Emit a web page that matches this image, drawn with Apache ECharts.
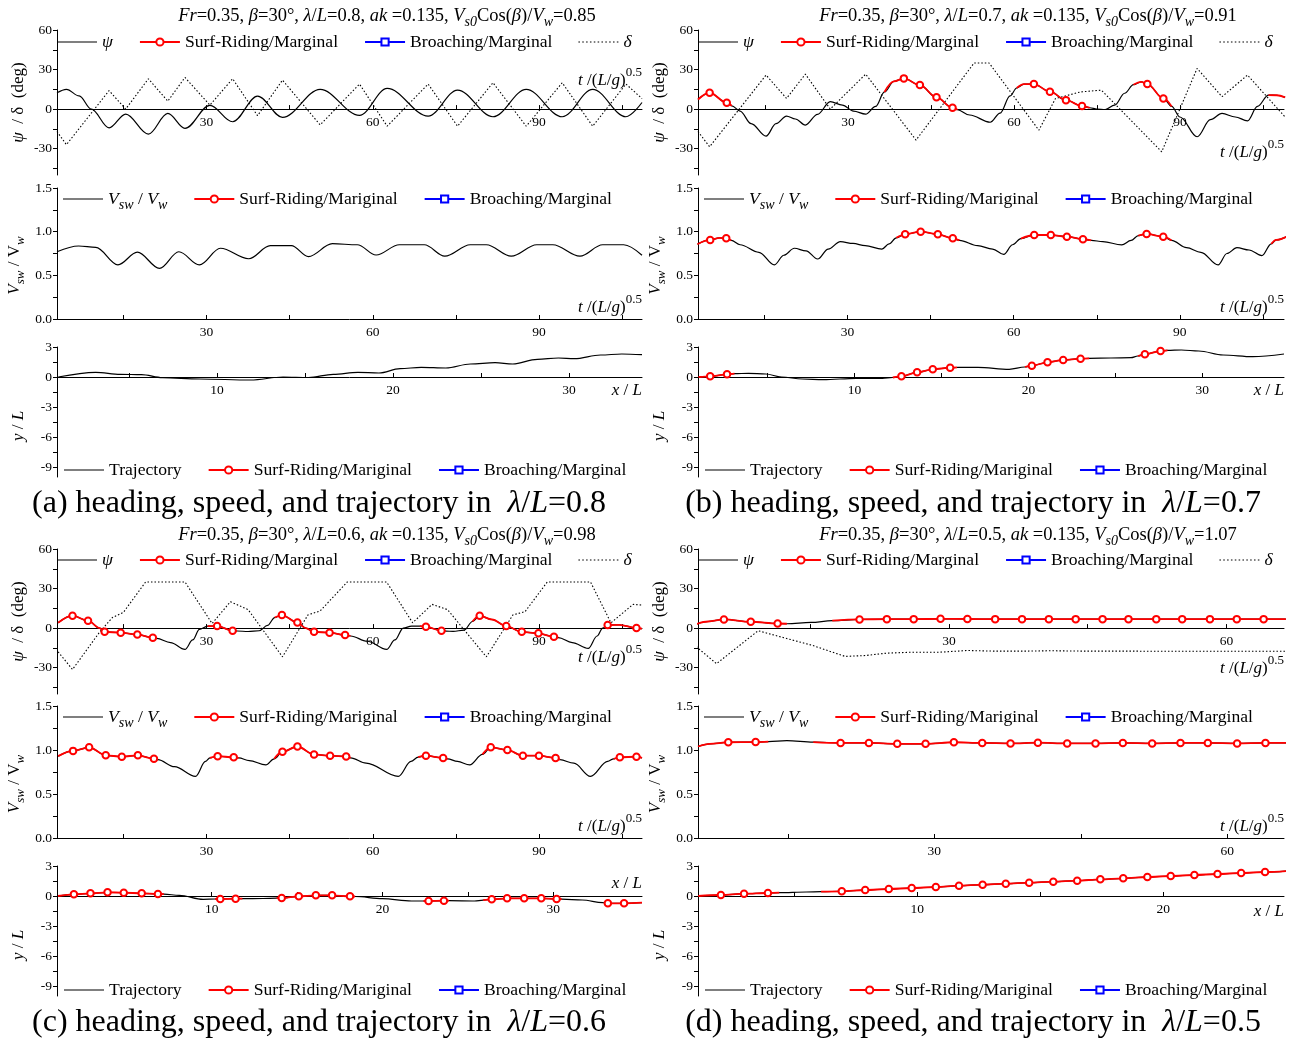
<!DOCTYPE html>
<html>
<head>
<meta charset="UTF-8">
<title>heading, speed, and trajectory</title>
<script src="https://cdn.jsdelivr.net/npm/echarts@6/dist/echarts.min.js"></script>
<style>
  html, body { margin: 0; background: #fff; }
  #chart { width: 1293px; height: 1043px; }
</style>
</head>
<body>
<div id="chart"></div>
<script>
// ---- data: [t or x, value, flag]  flag 0 = normal, 1 = surf-riding segment, 2 = surf-riding marker
// (a) lambda/L = 0.8
const psiA = [[3,12.4,0],[4.7,15,0],[7,10,0],[9.2,0,0],[12.4,-14.2,0],[15.4,-3.8,0],[19.5,-19,0],[23,-3.3,0],[26.1,-14.6,0],[30.6,2.8,0],[34.7,-9.6,0],[39.2,9.9,0],[43.7,-6.3,0],[50.5,15,0],[57.6,-4.8,0],[62.6,15.7,0],[70,-5.3,0],[75.3,14.4,0],[81.7,-5.8,0],[87.7,15,0],[94.2,-5.8,0],[99.7,15,0],[105.7,-5.8,0],[108.6,5,0]];
const deltaA = [[3,-17],[4.7,-27],[12.4,14],[15.4,0],[19.5,23],[23,6],[26.1,24],[30.6,3],[34.7,23],[39.2,-5],[43.7,22],[50.5,-12],[57.6,19],[62.6,-13],[70,19],[75.3,-13],[81.7,20],[87.7,-13],[94.2,20],[99.7,-13],[105.7,19],[108.6,8]];
const speedA = [[3,0.77,0],[6.9,0.836,0],[10,0.82,0],[14,0.62,0],[17.5,0.765,0],[21.5,0.58,0],[25,0.77,0],[28.7,0.62,0],[32.5,0.81,0],[37.6,0.69,0],[41.5,0.84,0],[45.3,0.84,0],[48.4,0.715,0],[52.7,0.862,0],[57.2,0.85,0],[60.6,0.733,0],[64.8,0.85,0],[69.3,0.85,0],[73,0.72,0],[77.6,0.85,0],[80.5,0.85,0],[85,0.72,0],[89.6,0.85,0],[92.5,0.85,0],[97.4,0.72,0],[101.5,0.85,0],[105.3,0.85,0],[108.6,0.73,0]];
const trajA = [[0.97,0,0],[3.1,0.47,0],[4.5,0.27,0],[5.7,0.23,0],[6.9,-0.07,0],[9,-0.2,0],[11.9,-0.3,0],[13.75,0,0],[15.2,-0.05,0],[16.6,0.27,0],[18,0.47,0],[19.2,0.4,0],[20.4,0.83,0],[21.6,0.97,0],[23,0.9,0],[24.4,1.3,0],[25.8,1.43,0],[26.8,1.3,0],[28.2,1.77,0],[29.4,1.9,0],[30.3,1.83,0],[31.8,2.2,0],[33,2.3,0],[34.15,2.23,0]];

// (b) lambda/L = 0.7
const psiB = [[2.9,7.3,1],[5,12.4,2],[8.1,4.8,2],[9,2.5,1],[10.5,-1.5,0],[12.5,-11,0],[15.2,-20.5,0],[17,-11,0],[18.9,-5.3,0],[20.5,-7.5,0],[22.3,-12.1,0],[24.5,-4,0],[26.8,5.6,0],[29,3,0],[31,-1.5,0],[33.2,-3.8,0],[35,2,0],[36.6,13,1],[38.3,21,1],[40.1,23.3,2],[43,18.2,2],[46,8.9,2],[48.9,1,2],[49.8,-0.5,1],[52,-4.5,0],[55.7,-10,0],[57.5,-3,0],[59.3,10,0],[60.5,16,1],[61.8,19,1],[63.6,19,2],[66.5,13.2,2],[69.4,6.8,2],[72.3,2.3,2],[73.7,1,1],[75,0,0],[76.5,-0.3,0],[78.2,3,0],[80,12,0],[81.6,18.5,1],[83,20.7,1],[84.1,19,2],[87,8.1,2],[88.5,2,1],[90,-6,0],[93.1,-21,0],[95.5,-8,0],[97.6,-3.3,0],[100,-6,0],[102.2,-8.9,0],[104,2,0],[106,10.6,1],[107.5,10.5,1],[109,8.9,1]];
const deltaB = [[2.9,-17],[5,-28.6],[15.2,25.8],[18.9,8.1],[22.3,26.5],[26.8,0],[33.2,26.5],[42.3,-23.5],[52.8,35],[55.5,35],[64.5,-16],[67.5,8],[72,13],[75.8,14.4],[86.7,-32.4],[93.1,30.9],[97.6,9.4],[102.2,25.8],[109,-6]];
const speedB = [[2.9,0.856,1],[5.2,0.905,2],[6.9,0.93,1],[8.1,0.924,2],[9,0.9,1],[10.6,0.85,0],[14,0.764,0],[16.8,0.62,0],[18.5,0.73,0],[20.4,0.81,0],[22.5,0.78,0],[24.6,0.687,0],[26.5,0.8,0],[28.7,0.886,0],[31,0.865,0],[33.2,0.84,0],[36.2,0.8,0],[37.5,0.86,0],[38.8,0.93,1],[40.4,0.97,2],[43.2,1.0,2],[46.3,0.97,2],[49,0.924,2],[50.2,0.9,1],[53.5,0.84,0],[56.2,0.8,0],[58.2,0.74,0],[59.8,0.85,0],[61.3,0.92,1],[63.7,0.962,2],[66.7,0.962,2],[69.6,0.943,2],[72.5,0.913,2],[74,0.9,1],[76.1,0.886,0],[79.5,0.848,0],[81.2,0.9,0],[82.5,0.955,1],[84,0.974,2],[87,0.943,2],[88.5,0.9,1],[91.2,0.817,0],[93.8,0.764,0],[96.9,0.62,0],[98.5,0.75,0],[100.3,0.817,0],[102.5,0.79,0],[104.8,0.725,0],[106.5,0.86,1],[107.4,0.905,1],[109.3,0.943,1]];
const trajB = [[1.03,0,1],[1.7,0.07,2],[2.67,0.27,2],[3.1,0.33,1],[3.9,0.37,0],[4.9,0.3,0],[5.8,0,0],[7,-0.2,0],[8.2,-0.27,0],[10.1,-0.13,0],[11.6,-0.13,0],[12.2,-0.05,1],[12.7,0.07,2],[13.6,0.47,2],[14.5,0.77,2],[15.5,0.93,2],[15.9,0.96,1],[17.1,0.97,0],[18.9,0.77,0],[19.8,1.0,1],[20.2,1.13,2],[21.1,1.47,2],[22,1.7,2],[23,1.83,2],[23.5,1.87,1],[24.75,1.9,0],[25.9,1.93,0],[26.3,2.1,1],[26.7,2.27,2],[27.6,2.6,2],[28,2.66,1],[28.8,2.7,0],[29.8,2.6,0],[31.2,2.2,0],[32.9,2.03,0],[34.7,2.3,0]];

// (c) lambda/L = 0.6
const psiC = [[3.2,4,1],[5.8,9.4,2],[8.6,5.6,2],[10.7,0,1],[11.6,-2.8,2],[14.5,-3.5,2],[17.5,-4.8,2],[20.3,-7.3,2],[21,-7.8,1],[23.5,-11,0],[26.1,-16.2,0],[27.5,-9,0],[28.7,-1,0],[30.2,1.5,1],[31.9,1.5,2],[34.7,-2,2],[35.5,-2.2,1],[37.5,-2.6,0],[39.5,-2,0],[41,2,0],[42.3,8,1],[43.6,9.9,2],[46.4,4.3,2],[47.9,0,1],[49.4,-2.8,2],[52.2,-3.5,2],[55,-5.3,2],[56,-6,1],[59,-10,0],[62.5,-16.2,0],[64,-9,0],[65.5,0,0],[67,1.5,0],[68.5,1.5,1],[69.6,1,2],[72.4,-2,2],[73.2,-2.3,1],[74.5,-2.5,0],[76.5,-1.5,0],[78,5,1],[79.3,9.4,2],[81.5,6.5,1],[84.1,1.5,2],[86.9,-2.8,2],[89.9,-4,2],[92.7,-6.6,2],[93.5,-7.2,1],[96,-11,0],[98.9,-15.4,0],[100.5,-6,0],[101.5,0,0],[102.4,2.3,2],[104.5,2.5,1],[107.6,0,2],[108.6,-0.4,1]];
const deltaC = [[3.2,-18],[5.8,-31.4],[10.7,-3],[13,8],[15,12],[19,35],[26.1,35],[31,3.5],[34.3,20],[37.5,14],[43.7,-21.8],[48.3,10],[50.5,13],[55.4,35],[62.5,35],[67.2,4],[70.7,18],[73.5,14],[80.5,-21.8],[85.3,10],[87.5,12.5],[91.5,35],[99.3,35],[103,4],[107,18],[108.6,17.5]];
const speedC = [[3.2,0.93,1],[5.9,0.99,2],[8.8,1.03,2],[11.8,0.94,2],[14.7,0.924,2],[17.6,0.94,2],[20.5,0.9,2],[21.2,0.89,1],[24.2,0.81,0],[28,0.7,0],[29.8,0.87,0],[30.6,0.91,1],[32,0.93,2],[34.9,0.917,2],[35.8,0.91,1],[37.7,0.88,0],[40.7,0.83,0],[42.2,0.9,1],[43.7,0.98,2],[46.4,1.04,2],[49.4,0.95,2],[52.3,0.935,2],[55.2,0.925,2],[56,0.91,1],[58.8,0.85,0],[64.6,0.7,0],[66.9,0.87,0],[68.2,0.92,1],[69.6,0.935,2],[72.7,0.91,2],[73.5,0.9,1],[75.3,0.87,0],[77.5,0.83,0],[79.8,0.95,1],[81.3,1.03,2],[84.3,1.0,2],[87.1,0.935,2],[90,0.935,2],[93,0.91,2],[93.8,0.89,1],[96.3,0.85,0],[99.3,0.7,0],[102.4,0.87,0],[103.5,0.9,1],[104.6,0.917,2],[107.6,0.924,2],[108.6,0.91,1]];
const trajC = [[1,0,1],[1.93,0.17,2],[2.9,0.27,2],[3.9,0.37,2],[4.85,0.33,2],[5.9,0.27,2],[6.85,0.2,2],[7.2,0.18,1],[8.1,0.07,0],[9.5,-0.33,0],[10.2,-0.3,1],[10.5,-0.3,2],[11.4,-0.27,2],[11.8,-0.26,1],[13,-0.25,0],[13.8,-0.22,1],[14.1,-0.2,2],[15.1,-0.03,2],[16.1,0.07,2],[17.05,0.07,2],[18.1,-0.03,2],[18.4,-0.05,1],[20,-0.27,0],[21.7,-0.5,0],[22.4,-0.5,1],[22.7,-0.5,2],[23.6,-0.47,2],[23.9,-0.47,1],[25.4,-0.5,0],[25.9,-0.42,1],[26.4,-0.33,2],[27.3,-0.23,2],[28.3,-0.23,2],[29.3,-0.23,2],[30.2,-0.3,2],[30.5,-0.32,1],[31.7,-0.4,0],[32.9,-0.67,0],[33.2,-0.73,2],[34.15,-0.73,2],[35.2,-0.67,1]];

// (d) lambda/L = 0.5
const psiD = [[2.7,3,1],[4,5,1],[5.7,6.6,2],[8.6,4.8,2],[11.5,3.5,2],[12.5,3.3,1],[15.1,4.3,0],[17.4,5.6,1],[20.35,6.6,2],[23.3,6.8,2],[26.2,6.8,2],[29.1,7,2],[32,6.9,2],[35,6.8,2],[37.9,6.8,2],[40.8,6.8,2],[43.7,6.8,2],[46.6,6.8,2],[49.4,6.8,2],[52.4,6.8,2],[55.2,6.8,2],[58.2,6.8,2],[61.1,6.8,2],[64,6.8,2],[66.4,6.8,1]];
const deltaD = [[2.7,-14],[4.9,-27],[9.4,-2],[12,-7],[15.2,-13],[18.8,-21.5],[21,-20.8],[23.3,-19],[26,-18.3],[29,-18.3],[32,-17],[35,-17.5],[38,-17.5],[41,-17.2],[45,-17.5],[50,-17.5],[55,-17.6],[60,-17.6],[66.4,-17.6]];
const speedD = [[5.8,1.04,1],[7,1.07,1],[8.9,1.088,2],[11.7,1.09,2],[13,1.095,1],[14.9,1.106,0],[17.6,1.09,1],[20.4,1.08,2],[23.3,1.08,2],[26.2,1.07,2],[29.1,1.07,2],[32,1.088,2],[34.9,1.08,2],[37.8,1.075,2],[40.6,1.083,2],[43.6,1.075,2],[46.5,1.075,2],[49.3,1.08,2],[52.3,1.075,2],[55.2,1.08,2],[58,1.08,2],[61,1.075,2],[63.9,1.08,2],[66.1,1.08,1]];
const trajD = [[1.11,0,1],[2.03,0.1,2],[2.97,0.23,2],[3.94,0.3,2],[4.4,0.33,1],[5.5,0.4,0],[6.1,0.43,1],[6.94,0.47,2],[7.89,0.6,2],[8.85,0.7,2],[9.78,0.8,2],[10.76,0.9,2],[11.7,1.03,2],[12.66,1.13,2],[13.6,1.23,2],[14.55,1.33,2],[15.53,1.43,2],[16.5,1.53,2],[17.44,1.67,2],[18.37,1.77,2],[19.35,1.9,2],[20.3,2.0,2],[21.26,2.1,2],[22.2,2.2,2],[23.16,2.3,2],[24.13,2.4,2],[25,2.5,1]];

// ---- ticks
const tTicks = [15, 30, 45, 60, 75, 90, 105];
const tLabels = [30, 60, 90];
const tTicksD = [15, 30, 45, 60];
const tLabelsD = [30, 60];
const xTicks = [5, 10, 15, 20, 25, 30];
const xLabels = [10, 20, 30];
const xTicksD = [5, 10, 15, 20];
const xLabelsD = [10, 20];
const headTicks = [-45, -30, -15, 0, 15, 30, 45, 60];
const headLabels = [-30, 0, 30, 60];
const speedTicks = [0, 0.25, 0.5, 0.75, 1, 1.25, 1.5];
const speedLabels = [0, 0.5, 1, 1.5];
const trajTicks = [-9, -7.5, -6, -4.5, -3, -1.5, 0, 1.5, 3];
const trajLabels = [-9, -6, -3, 0, 3];

// ---- layout
const FONT = 'Liberation Serif';
const SM = 0.35;
const HEAD_Y = [-50, 60], SPEED_Y = [0, 1.5], TRAJ_Y = [-10, 3];
const cols = [{ l: 57, r: 642, c: 387, cap: 319 }, { l: 698, r: 1284, c: 1028, cap: 973 }];
const rows = [
  { head: [30, 175], speed: [188, 319], traj: [347, 477], sub: 3, cap: 488, lg: [33, 190, 461] },
  { head: [549, 694], speed: [706, 838], traj: [866, 996], sub: 522, cap: 1007, lg: [551, 708, 981] }
];
const panels = [
  { tag: 'a', col: 0, row: 0, lam: '0.8', ratio: '0.85', psi: psiA, delta: deltaA, speed: speedA, traj: trajA,
    tHead: [3, 108.6], tSpeed: [3, 108.6], xTraj: [0.9, 34.15], tt: tTicks, tl: tLabels, xt: xTicks, xl: xLabels, headName: -29, trajName: 14 },
  { tag: 'b', col: 1, row: 0, lam: '0.7', ratio: '0.91', psi: psiB, delta: deltaB, speed: speedB, traj: trajB,
    tHead: [2.9, 108.8], tSpeed: [3, 108.8], xTraj: [1, 34.7], tt: tTicks, tl: tLabels, xt: xTicks, xl: xLabels, headName: 43, trajName: 14 },
  { tag: 'c', col: 0, row: 1, lam: '0.6', ratio: '0.98', psi: psiC, delta: deltaC, speed: speedC, traj: trajC,
    tHead: [3, 108.6], tSpeed: [3, 108.6], xTraj: [0.94, 35.2], tt: tTicks, tl: tLabels, xt: xTicks, xl: xLabels, headName: 29, trajName: -12 },
  { tag: 'd', col: 1, row: 1, lam: '0.5', ratio: '1.07', psi: psiD, delta: deltaD, speed: speedD, traj: trajD,
    tHead: [2.9, 66.2], tSpeed: [5.8, 65.8], xTraj: [1.1, 24.9], tt: tTicksD, tl: tLabelsD, xt: xTicksD, xl: xLabelsD, headName: 40, trajName: 16 }
];

function mkRich(size, subSize) {
  const base = { fontFamily: FONT, fontSize: size, fontWeight: 'normal', color: '#000' };
  return {
    n: base,
    i: Object.assign({}, base, { fontStyle: 'italic' }),
    sub: Object.assign({}, base, { fontSize: subSize, fontStyle: 'italic', padding: [12, 0, 0, 0] }),
    sup: Object.assign({}, base, { fontSize: subSize, padding: [0, 0, 16, 0] })
  };
}
const rich = mkRich(17, 13);
const subRich = mkRich(18.5, 14);
const legendRich = mkRich(17.6, 14);
const tName = '{i|t}{n| /(}{i|L}{n|/}{i|g}{n|)}{sup|0.5}';
function shiftPad(s) { return s < 0 ? [0, 0, -2 * s, 0] : [2 * s, 0, 0, 0]; }

// legend glyphs for plain black lines (no marker) and the dotted rudder line
const LINE_ICON = 'path://M0,0H40V1.2H0Z';
let dots = '';
for (let k = 0; k < 11; k++) dots += 'M' + (k * 3.7) + ',0h1.5v1.1h-1.5Z';
const DOT_ICON = 'path://' + dots;

const grids = [], xAxes = [], yAxes = [], legends = [], titles = [], series = [];

function addGrid(col, top, bottom) {
  grids.push({ left: col.l, top: top, width: col.r - col.l, height: bottom - top, containLabel: false });
  return grids.length - 1;
}
// yr: y range of the grid, so the x axis can sit on y = 0
function xAxis(gi, range, ticks, labels, name, shift, yr) {
  const g = grids[gi];
  const off = yr[0] < 0 ? -g.height * (0 - yr[0]) / (yr[1] - yr[0]) : 0;
  xAxes.push({
    type: 'value', gridIndex: gi, min: range[0], max: range[1], position: 'bottom', offset: off,
    axisLine: { show: true, onZero: false, lineStyle: { color: '#000', width: 1 } },
    axisTick: { show: true, inside: true, length: 4, customValues: ticks, lineStyle: { color: '#000' } },
    axisLabel: { customValues: labels, color: '#000', fontFamily: FONT, fontSize: 13.5, margin: 6 },
    splitLine: { show: false },
    name: name, nameLocation: 'end', nameGap: 0,
    nameTextStyle: { align: 'right', verticalAlign: 'middle', padding: shiftPad(shift), rich: rich }
  });
}
function yAxis(gi, range, ticks, labels, name, fmt, namePad) {
  yAxes.push({
    type: 'value', gridIndex: gi, min: range[0], max: range[1],
    axisLine: { show: true, onZero: false, lineStyle: { color: '#000', width: 1 } },
    axisTick: { show: true, inside: false, length: 4, customValues: ticks, lineStyle: { color: '#000' } },
    axisLabel: { customValues: labels, color: '#000', fontFamily: FONT, fontSize: 13.5, margin: 5, formatter: fmt },
    splitLine: { show: false },
    name: name, nameLocation: 'middle', nameRotate: 90, nameGap: 30,
    nameTextStyle: { rich: rich, padding: namePad || 0 }
  });
}
function addCurve(gi, pts, name, redName) {
  series.push({
    type: 'line', name: name, xAxisIndex: gi, yAxisIndex: gi, data: pts.map(p => [p[0], p[1]]),
    smooth: SM, smoothMonotone: 'x', symbol: 'none', lineStyle: { color: '#000', width: 1.2 }, itemStyle: { color: '#000' }, z: 2
  });
  let run = [];
  const flush = () => {
    if (run.length > 1) {
      series.push({
        type: 'line', name: redName, xAxisIndex: gi, yAxisIndex: gi, smooth: SM, smoothMonotone: 'x',
        symbol: 'emptyCircle', symbolSize: 6.5, showSymbol: true,
        lineStyle: { color: '#f00', width: 1.8 }, itemStyle: { color: '#f00', borderWidth: 1.2 },
        data: run.map(p => ({ value: [p[0], p[1]], symbol: p[2] === 2 ? 'emptyCircle' : 'none' })), z: 3
      });
    }
    run = [];
  };
  pts.forEach(p => { if (p[2]) run.push(p); else flush(); });
  flush();
}
const plainLines = ['ψ', 'Vsw / Vw', 'Trajectory'];
function addLegend(left, top, names) {
  legends.push({
    left: left, top: top, padding: 0, itemGap: 26, itemWidth: 40, itemHeight: 9, selectedMode: false,
    symbolKeepAspect: true,
    data: names.map(n => plainLines.indexOf(n) >= 0 ? { name: n, icon: LINE_ICON } : (n === 'δ' ? { name: n, icon: DOT_ICON } : { name: n })),
    formatter: function (n) {
      if (n === 'ψ' || n === 'δ') return '{i|' + n + '}';
      if (n === 'Vsw / Vw') return '{i|V}{sub|sw}{n| / }{i|V}{sub|w}';
      return '{n|' + n + '}';
    },
    textStyle: { fontFamily: FONT, fontSize: 17.6, color: '#000', rich: legendRich }
  });
}

panels.forEach(p => {
  const col = cols[p.col], row = rows[p.row];
  // heading
  const g1 = addGrid(col, row.head[0], row.head[1]);
  xAxis(g1, p.tHead, p.tt, p.tl, tName, p.headName, HEAD_Y);
  yAxis(g1, HEAD_Y, headTicks, headLabels, '{i|ψ}{n|  / δ  (deg)}');
  addCurve(g1, p.psi, 'ψ', 'Surf-Riding/Marginal');
  series.push({
    type: 'line', name: 'δ', xAxisIndex: g1, yAxisIndex: g1, data: p.delta, symbol: 'none',
    lineStyle: { color: '#000', width: 1.1, type: [1.5, 2] }, itemStyle: { color: '#000' }, z: 1
  });
  addLegend(col.l, row.lg[0], ['ψ', 'Surf-Riding/Marginal', 'Broaching/Marginal', 'δ']);
  // speed
  const g2 = addGrid(col, row.speed[0], row.speed[1]);
  xAxis(g2, p.tSpeed, p.tt, p.tl, tName, -11, SPEED_Y);
  yAxis(g2, SPEED_Y, speedTicks, speedLabels, '{i|V}{sub|sw}{n| / }{n|V}{sub|w}', v => v.toFixed(1), [0, 24, 0, 0]);
  addCurve(g2, p.speed, 'Vsw / Vw', 'Surf-Riding/Mariginal');
  addLegend(col.l + 6, row.lg[1], ['Vsw / Vw', 'Surf-Riding/Mariginal', 'Broaching/Marginal']);
  // trajectory
  const g3 = addGrid(col, row.traj[0], row.traj[1]);
  xAxis(g3, p.xTraj, p.xt, p.xl, '{i|x}{n| / }{i|L}', p.trajName, TRAJ_Y);
  yAxis(g3, TRAJ_Y, trajTicks, trajLabels, '{i|y}{n| / }{i|L}', null, [0, 28, 0, 0]);
  addCurve(g3, p.traj, 'Trajectory', 'Surf-Riding/Mariginal');
  addLegend(col.l + 7, row.lg[2], ['Trajectory', 'Surf-Riding/Mariginal', 'Broaching/Marginal']);

  titles.push({
    left: col.c, top: row.sub, textAlign: 'center', padding: 0,
    text: '{i|Fr}{n|=0.35, }{i|β}{n|=30°, }{i|λ}{n|/}{i|L}{n|=' + p.lam + ', }' +
      '{i|ak}{n| =0.135, }{i|V}{sub|s0}{n|Cos(}{i|β}{n|)/}{i|V}{sub|w}{n|=' + p.ratio + '}',
    textStyle: { fontWeight: 'normal', rich: subRich }
  });
  titles.push({
    left: col.cap, top: row.cap, textAlign: 'center', padding: 0,
    text: '{c|(' + p.tag + ') heading, speed, and trajectory in  }{ci|λ}{c|/}{ci|L}{c|=' + p.lam + '}',
    textStyle: { fontWeight: 'normal', rich: {
      c: { fontFamily: FONT, fontSize: 32, fontWeight: 'normal', color: '#000' },
      ci: { fontFamily: FONT, fontSize: 32, fontWeight: 'normal', fontStyle: 'italic', color: '#000' }
    } }
  });
});

// broaching never occurs here, but it is listed in every legend
series.push({
  type: 'line', name: 'Broaching/Marginal', xAxisIndex: 0, yAxisIndex: 0, data: [],
  symbol: 'emptyRect', symbolSize: 6, lineStyle: { color: '#00f', width: 1.8 }, itemStyle: { color: '#00f', borderWidth: 1.2 }
});

const chart = echarts.init(document.getElementById('chart'));
chart.setOption({
  animation: false,
  backgroundColor: '#fff',
  title: titles,
  legend: legends,
  grid: grids,
  xAxis: xAxes,
  yAxis: yAxes,
  series: series
});
</script>
</body>
</html>
